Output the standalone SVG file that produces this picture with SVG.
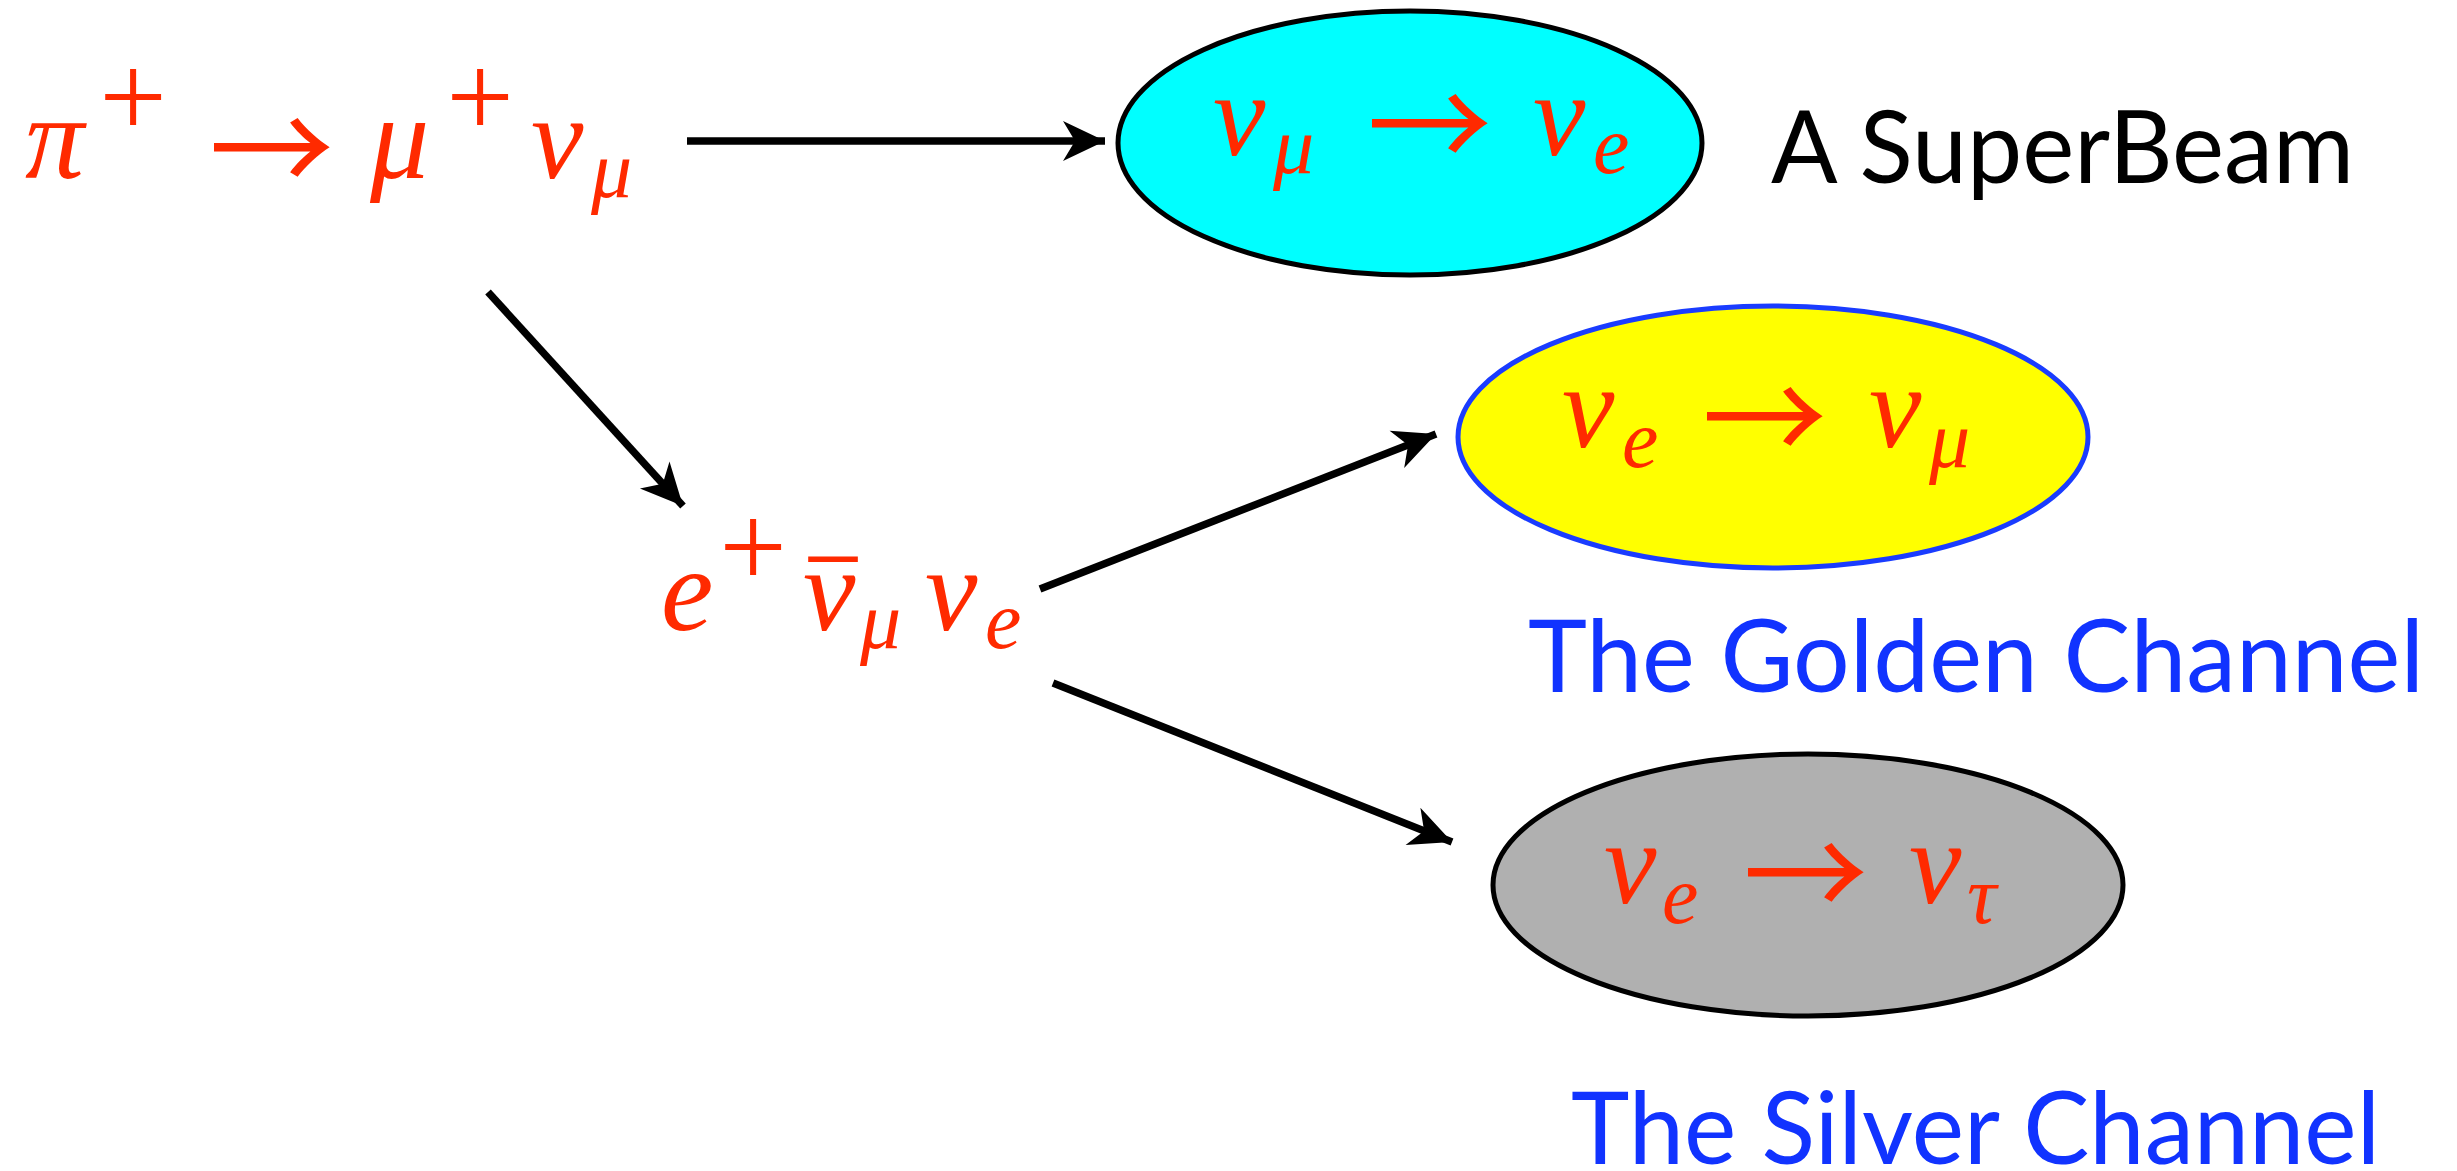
<svg xmlns="http://www.w3.org/2000/svg" width="2457" height="1171" viewBox="0 0 2457 1171">
<style>
.m{font-family:"Liberation Serif","Times New Roman",serif;font-style:italic;fill:#ff2a00;font-size:118px}
.s{font-size:82px}
.p{font-family:"Liberation Serif",serif;font-style:normal;fill:#ff2a00;font-size:120px;text-anchor:middle}
.ar{font-family:"Noto Sans CJK JP","DejaVu Sans",sans-serif;font-style:normal;fill:#ff2a00;font-size:125px}
.bar{font-family:"Liberation Serif",serif;font-style:normal;font-size:118px}
.lbl{font-family:"Lato","Open Sans",sans-serif;font-size:100px}
.con{stroke:#000;stroke-width:7.5;fill:none;marker-end:url(#ah)}
</style>
<defs>
<marker id="ah" markerUnits="userSpaceOnUse" markerWidth="48" markerHeight="44" refX="43" refY="20" orient="auto" viewBox="0 0 48 40">
<path d="M43,20 L1,0 L13,20 L1,40 Z" fill="#000"/>
</marker>
</defs>
<rect width="2457" height="1171" fill="#fff"/>
<g id="connectors">
<line class="con" x1="687" y1="141" x2="1105" y2="141"/>
<line class="con" x1="488" y1="292" x2="683" y2="506"/>
<line class="con" x1="1040" y1="589" x2="1436" y2="434"/>
<line class="con" x1="1053" y1="683" x2="1452" y2="842"/>
</g>
<g id="source">
<text class="m" x="25" y="178">π</text>
<text class="p" x="133" y="137">+</text>
<text class="ar" x="209" y="195">→</text>
<text class="m" x="370" y="178">μ</text>
<text class="p" x="480" y="137">+</text>
<text class="m" x="531" y="178">ν<tspan class="s" x="591" y="197">μ</tspan></text>
</g>
<g id="decay">
<text class="m" x="661" y="630">e</text>
<text class="p" x="753" y="587">+</text>
<text class="m" x="803" y="630">ν<tspan class="bar" x="809" y="646" textLength="48" lengthAdjust="spacingAndGlyphs">¯</tspan><tspan class="s" x="860" y="648">μ</tspan><tspan x="925" y="630">ν</tspan><tspan class="s" x="985" y="648">e</tspan></text>
</g>
<g id="superbeam">
<ellipse cx="1410" cy="143" rx="292" ry="132" fill="#00ffff" stroke="#000" stroke-width="5"/>
<text class="m" x="1213" y="155">ν<tspan class="s" x="1273" y="173">μ</tspan></text>
<text class="ar" x="1367" y="171">→</text>
<text class="m" x="1533" y="155">ν<tspan class="s" x="1593" y="173">e</tspan></text>
<text class="lbl" x="1771" y="183" fill="#000" textLength="583" lengthAdjust="spacingAndGlyphs">A SuperBeam</text>
</g>
<g id="golden">
<ellipse cx="1773" cy="437" rx="315" ry="131" fill="#ffff00" stroke="#1a3cff" stroke-width="5"/>
<text class="m" x="1562" y="447">ν<tspan class="s" x="1622" y="467">e</tspan></text>
<text class="ar" x="1702" y="464">→</text>
<text class="m" x="1869" y="447">ν<tspan class="s" x="1929" y="467">μ</tspan></text>
<text class="lbl" x="1528" y="692" fill="#1133ff" textLength="896" lengthAdjust="spacingAndGlyphs">The Golden Channel</text>
</g>
<g id="silver">
<ellipse cx="1808" cy="885" rx="315" ry="131" fill="#b0b0b0" stroke="#000" stroke-width="5"/>
<text class="m" x="1604" y="903">ν<tspan class="s" x="1662" y="923">e</tspan></text>
<text class="ar" x="1743" y="920">→</text>
<text class="m" x="1909" y="903">ν<tspan class="s" x="1967" y="923">τ</tspan></text>
<text class="lbl" x="1571" y="1164" fill="#1133ff" textLength="809" lengthAdjust="spacingAndGlyphs">The Silver Channel</text>
</g>
</svg>
